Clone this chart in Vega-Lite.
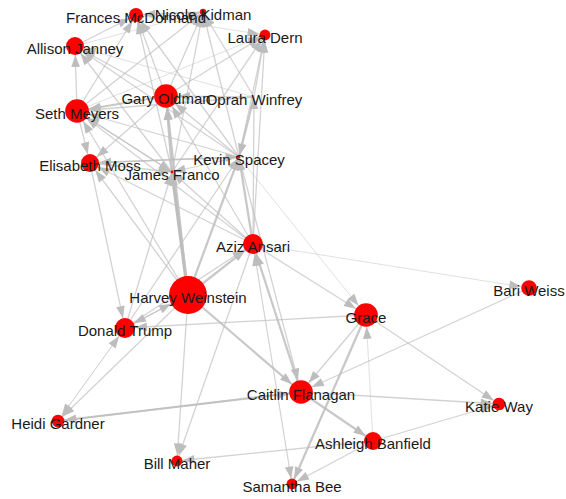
{
  "$schema": "https://vega.github.io/schema/vega-lite/v6.json",
  "width": 566,
  "height": 499,
  "padding": 0,
  "autosize": {"type": "fit", "contains": "padding"},
  "background": "white",
  "config": {"view": {"stroke": null}},
  "datasets": {
    "nodes": [
      {"id": "FM", "name": "Frances McDormand", "x": 136, "y": 15, "value": 5},
      {"id": "NK", "name": "Nicole Kidman", "x": 203, "y": 12, "value": 1},
      {"id": "LD", "name": "Laura Dern", "x": 265, "y": 35, "value": 3},
      {"id": "AJ", "name": "Allison Janney", "x": 75, "y": 46, "value": 8},
      {"id": "GO", "name": "Gary Oldman", "x": 166, "y": 96, "value": 14},
      {"id": "OW", "name": "Oprah Winfrey", "x": 254, "y": 97, "value": 0},
      {"id": "SM", "name": "Seth Meyers", "x": 77, "y": 111, "value": 14},
      {"id": "EM", "name": "Elisabeth Moss", "x": 90, "y": 163, "value": 8},
      {"id": "JF", "name": "James Franco", "x": 172, "y": 172, "value": 0.2},
      {"id": "KS", "name": "Kevin Spacey", "x": 239, "y": 157, "value": 0.2},
      {"id": "AA", "name": "Aziz Ansari", "x": 253, "y": 244, "value": 10},
      {"id": "HW", "name": "Harvey Weinstein", "x": 188, "y": 295, "value": 36},
      {"id": "DT", "name": "Donald Trump", "x": 125, "y": 328, "value": 10},
      {"id": "GR", "name": "Grace", "x": 366, "y": 315, "value": 14},
      {"id": "BW", "name": "Bari Weiss", "x": 529, "y": 288, "value": 6},
      {"id": "CF", "name": "Caitlin Flanagan", "x": 301, "y": 392, "value": 14},
      {"id": "KW", "name": "Katie Way", "x": 499, "y": 404, "value": 4},
      {"id": "AB", "name": "Ashleigh Banfield", "x": 373, "y": 441, "value": 8},
      {"id": "SB", "name": "Samantha Bee", "x": 292, "y": 484, "value": 3},
      {"id": "BM", "name": "Bill Maher", "x": 177, "y": 461, "value": 3},
      {"id": "HG", "name": "Heidi Gardner", "x": 58, "y": 421, "value": 4}
    ],
    "edges": [
      {"s": "SM", "t": "AJ", "w": 1}, {"s": "SM", "t": "FM", "w": 1}, {"s": "SM", "t": "NK", "w": 1},
      {"s": "SM", "t": "LD", "w": 0.5}, {"s": "SM", "t": "EM", "w": 1}, {"s": "GO", "t": "SM", "w": 2},
      {"s": "AJ", "t": "FM", "w": 1}, {"s": "AJ", "t": "NK", "w": 0.5}, {"s": "GO", "t": "FM", "w": 1},
      {"s": "GO", "t": "NK", "w": 1}, {"s": "GO", "t": "LD", "w": 1}, {"s": "GO", "t": "AJ", "w": 1},
      {"s": "GO", "t": "EM", "w": 1}, {"s": "JF", "t": "GO", "w": 2}, {"s": "JF", "t": "SM", "w": 1},
      {"s": "JF", "t": "AJ", "w": 1}, {"s": "JF", "t": "FM", "w": 1}, {"s": "JF", "t": "NK", "w": 1},
      {"s": "JF", "t": "LD", "w": 1}, {"s": "KS", "t": "GO", "w": 1}, {"s": "KS", "t": "SM", "w": 1},
      {"s": "KS", "t": "AJ", "w": 1}, {"s": "KS", "t": "FM", "w": 1}, {"s": "KS", "t": "NK", "w": 1},
      {"s": "KS", "t": "LD", "w": 1}, {"s": "KS", "t": "EM", "w": 1}, {"s": "KS", "t": "JF", "w": 1},
      {"s": "OW", "t": "GO", "w": 1}, {"s": "OW", "t": "SM", "w": 1}, {"s": "OW", "t": "AJ", "w": 0.5},
      {"s": "OW", "t": "LD", "w": 1}, {"s": "OW", "t": "NK", "w": 1}, {"s": "OW", "t": "KS", "w": 2},
      {"s": "EM", "t": "JF", "w": 1}, {"s": "SM", "t": "JF", "w": 1}, {"s": "EM", "t": "KS", "w": 1},
      {"s": "NK", "t": "FM", "w": 1}, {"s": "FM", "t": "LD", "w": 0.5}, {"s": "AA", "t": "KS", "w": 2},
      {"s": "AA", "t": "JF", "w": 1}, {"s": "AA", "t": "GO", "w": 1}, {"s": "AA", "t": "OW", "w": 1},
      {"s": "AA", "t": "SM", "w": 1}, {"s": "AA", "t": "EM", "w": 1}, {"s": "AA", "t": "LD", "w": 1},
      {"s": "AA", "t": "BW", "w": 0.5}, {"s": "AA", "t": "GR", "w": 1}, {"s": "AA", "t": "BM", "w": 1},
      {"s": "AA", "t": "SB", "w": 0.5}, {"s": "HW", "t": "JF", "w": 3}, {"s": "HW", "t": "KS", "w": 2},
      {"s": "HW", "t": "GO", "w": 2}, {"s": "HW", "t": "AA", "w": 2}, {"s": "HW", "t": "EM", "w": 1},
      {"s": "HW", "t": "SM", "w": 1}, {"s": "HW", "t": "DT", "w": 1}, {"s": "HW", "t": "CF", "w": 2},
      {"s": "HW", "t": "BM", "w": 1}, {"s": "HW", "t": "HG", "w": 1}, {"s": "DT", "t": "HW", "w": 1},
      {"s": "DT", "t": "JF", "w": 1}, {"s": "DT", "t": "KS", "w": 1}, {"s": "DT", "t": "AA", "w": 1},
      {"s": "DT", "t": "HG", "w": 0.5}, {"s": "EM", "t": "DT", "w": 1}, {"s": "CF", "t": "AA", "w": 2},
      {"s": "CF", "t": "HG", "w": 2}, {"s": "HG", "t": "CF", "w": 1}, {"s": "CF", "t": "KW", "w": 1},
      {"s": "CF", "t": "AB", "w": 2}, {"s": "GR", "t": "CF", "w": 1}, {"s": "GR", "t": "SB", "w": 2},
      {"s": "GR", "t": "KW", "w": 1}, {"s": "GR", "t": "DT", "w": 1}, {"s": "BW", "t": "CF", "w": 1},
      {"s": "AB", "t": "SB", "w": 1}, {"s": "AB", "t": "BM", "w": 1}, {"s": "AB", "t": "GR", "w": 0.5},
      {"s": "AB", "t": "KW", "w": 1}, {"s": "SB", "t": "AA", "w": 0.5}, {"s": "KS", "t": "GR", "w": 0.5},
      {"s": "HG", "t": "DT", "w": 0.5}, {"s": "KS", "t": "CF", "w": 1}
    ]
  },
  "layer": [
    {
      "data": {"name": "edges"},
      "transform": [
        {"lookup": "s", "from": {"data": {"name": "nodes"}, "key": "id", "fields": ["x", "y"]}, "as": ["sx", "sy"]},
        {"lookup": "t", "from": {"data": {"name": "nodes"}, "key": "id", "fields": ["x", "y", "value"]}, "as": ["tx", "ty", "tv"]}
      ],
      "mark": {"type": "rule", "color": "#bdbdbd", "strokeCap": "butt"},
      "encoding": {
        "x": {"field": "sx", "type": "quantitative", "scale": {"domain": [0, 566], "nice": false, "zero": false}, "axis": null},
        "y": {"field": "sy", "type": "quantitative", "scale": {"domain": [0, 499], "nice": false, "zero": false, "reverse": true}, "axis": null},
        "x2": {"field": "tx"},
        "y2": {"field": "ty"},
        "strokeWidth": {"field": "w", "type": "quantitative", "scale": {"domain": [0.5, 3], "range": [0.8, 3.2]}, "legend": null},
        "opacity": {"field": "w", "type": "quantitative", "scale": {"domain": [0.5, 3], "range": [0.6, 1]}, "legend": null}
      }
    },
    {
      "data": {"name": "edges"},
      "transform": [
        {"lookup": "s", "from": {"data": {"name": "nodes"}, "key": "id", "fields": ["x", "y"]}, "as": ["sx", "sy"]},
        {"lookup": "t", "from": {"data": {"name": "nodes"}, "key": "id", "fields": ["x", "y", "value"]}, "as": ["tx", "ty", "tv"]},
        {"calculate": "datum.tx - datum.sx", "as": "dx"},
        {"calculate": "datum.ty - datum.sy", "as": "dy"},
        {"calculate": "sqrt(datum.dx * datum.dx + datum.dy * datum.dy)", "as": "len"},
        {"calculate": "sqrt(40 * datum.tv) / 2 + 6", "as": "off"},
        {"calculate": "datum.tx - datum.dx / datum.len * datum.off", "as": "ax"},
        {"calculate": "datum.ty - datum.dy / datum.len * datum.off", "as": "ay"},
        {"calculate": "atan2(datum.dx, -datum.dy) * 180 / PI", "as": "ang"}
      ],
      "mark": {"type": "point", "shape": "M0,-1L0.72,1L-0.72,1Z", "filled": true, "color": "#bdbdbd", "size": 145, "opacity": 1},
      "encoding": {
        "x": {"field": "ax", "type": "quantitative"},
        "y": {"field": "ay", "type": "quantitative"},
        "angle": {"field": "ang", "type": "quantitative", "scale": null}
      }
    },
    {
      "data": {"name": "nodes"},
      "mark": {"type": "point", "shape": "circle", "filled": true, "color": "#ff0000", "opacity": 1},
      "encoding": {
        "x": {"field": "x", "type": "quantitative"},
        "y": {"field": "y", "type": "quantitative"},
        "size": {"field": "value", "type": "quantitative", "scale": {"domain": [0, 40], "range": [0, 1600]}, "legend": null}
      }
    },
    {
      "data": {"name": "nodes"},
      "mark": {"type": "text", "font": "Liberation Sans", "fontSize": 15, "color": "#1a1a1a", "baseline": "middle", "align": "center", "dy": 3},
      "encoding": {
        "x": {"field": "x", "type": "quantitative"},
        "y": {"field": "y", "type": "quantitative"},
        "text": {"field": "name"}
      }
    }
  ]
}
